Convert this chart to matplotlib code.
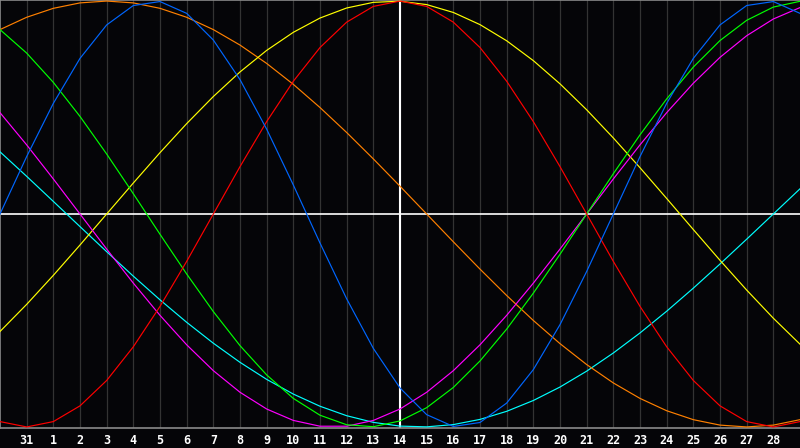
import matplotlib
matplotlib.use("Agg")
import matplotlib.pyplot as plt

# day index 0..30 across the chart (edge to edge), labels on the inner gridlines
day_labels = ["31"] + [str(i) for i in range(1, 29)]
days = list(range(0, 31))

# cycle values, one per day
blue = [0.0, 0.2698, 0.5196, 0.7308, 0.8879, 0.9791, 0.9977, 0.9423, 0.8170, 0.6311,
        0.3984, 0.1362, -0.1362, -0.3984, -0.6311, -0.8170, -0.9423, -0.9977, -0.9791, -0.8879,
        -0.7308, -0.5196, -0.2698, 0.0, 0.2698, 0.5196, 0.7308, 0.8879, 0.9791, 0.9977, 0.9423]
red = [-0.9749, -1.0, -0.9749, -0.9010, -0.7818, -0.6235, -0.4339, -0.2225, 0.0, 0.2225,
       0.4339, 0.6235, 0.7818, 0.9010, 0.9749, 1.0, 0.9749, 0.9010, 0.7818, 0.6235,
       0.4339, 0.2225, 0.0, -0.2225, -0.4339, -0.6235, -0.7818, -0.9010, -0.9749, -1.0, -0.9749]
green = [0.8660, 0.7557, 0.6182, 0.4582, 0.2817, 0.0951, -0.0951, -0.2817, -0.4582, -0.6182,
         -0.7557, -0.8660, -0.9450, -0.9898, -0.9989, -0.9718, -0.9096, -0.8146, -0.6901, -0.5406,
         -0.3717, -0.1893, 0.0, 0.1893, 0.3717, 0.5406, 0.6901, 0.8146, 0.9096, 0.9718, 0.9989]
magenta = [0.4759, 0.3247, 0.1646, 0.0, -0.1646, -0.3247, -0.4759, -0.6142, -0.7357, -0.8372,
           -0.9158, -0.9694, -0.9966, -0.9966, -0.9694, -0.9158, -0.8372, -0.7357, -0.6142, -0.4759,
           -0.3247, -0.1646, 0.0, 0.1646, 0.3247, 0.4759, 0.6142, 0.7357, 0.8372, 0.9158, 0.9694]
yellow = [-0.5517, -0.4244, -0.2881, -0.1456, 0.0, 0.1456, 0.2881, 0.4244, 0.5517, 0.6671,
          0.7684, 0.8533, 0.9203, 0.9675, 0.9940, 0.9993, 0.9834, 0.9465, 0.8894, 0.8135,
          0.7203, 0.6113, 0.4894, 0.3572, 0.2174, 0.0730, -0.0730, -0.2174, -0.3572, -0.4894, -0.6113]
orange = [0.8660, 0.9239, 0.9659, 0.9914, 1.0, 0.9914, 0.9659, 0.9239, 0.8660, 0.7934,
          0.7071, 0.6088, 0.5, 0.3827, 0.2588, 0.1305, 0.0, -0.1305, -0.2588, -0.3827,
          -0.5, -0.6088, -0.7071, -0.7934, -0.8660, -0.9239, -0.9659, -0.9914, -1.0, -0.9914, -0.9659]
cyan = [0.2920, 0.1769, 0.0592, -0.0592, -0.1769, -0.2920, -0.4031, -0.5086, -0.6068, -0.6966,
        -0.7766, -0.8457, -0.9028, -0.9473, -0.9785, -0.9961, -0.9996, -0.9890, -0.9646, -0.9267,
        -0.8758, -0.8126, -0.7380, -0.6527, -0.5586, -0.4566, -0.3482, -0.2348, -0.1183, 0.0, 0.1183]

series = [
    (cyan, "#00ffff"),
    (orange, "#ff8000"),
    (yellow, "#ffff00"),
    (magenta, "#ff00ff"),
    (green, "#00ff00"),
    (red, "#ff0000"),
    (blue, "#0066ff"),
]

bg = "#050508"
fig = plt.figure(figsize=(8, 4.48), dpi=100, facecolor=bg)
ax = fig.add_axes([0, 20 / 448, 1, 428 / 448])
ax.set_facecolor(bg)

ax.set_xlim(0, 30)
ax.set_ylim(-1.005, 1.005)

# day gridlines
for d in range(1, 30):
    ax.axvline(d, color="#333333", linewidth=0.9, zorder=1)

ax.axhline(0, color="white", linewidth=1.2, zorder=2)
ax.axvline(15, color="white", linewidth=1.5, zorder=2)

for vals, col in series:
    ax.plot(days, vals, color=col, linewidth=0.85, zorder=3)

for side in ["left", "top", "bottom"]:
    ax.spines[side].set_color("#8a8a8a")
    ax.spines[side].set_linewidth(1.2)
ax.spines["right"].set_visible(False)

ax.set_yticks([])
ax.set_xticks(range(1, 30))
ax.set_xticklabels(day_labels, color="white", fontsize=8.5,
                   fontfamily="DejaVu Sans Mono", fontweight="bold")
ax.tick_params(axis="x", length=0, pad=4)

fig.savefig("out.png", dpi=100, facecolor=bg)
